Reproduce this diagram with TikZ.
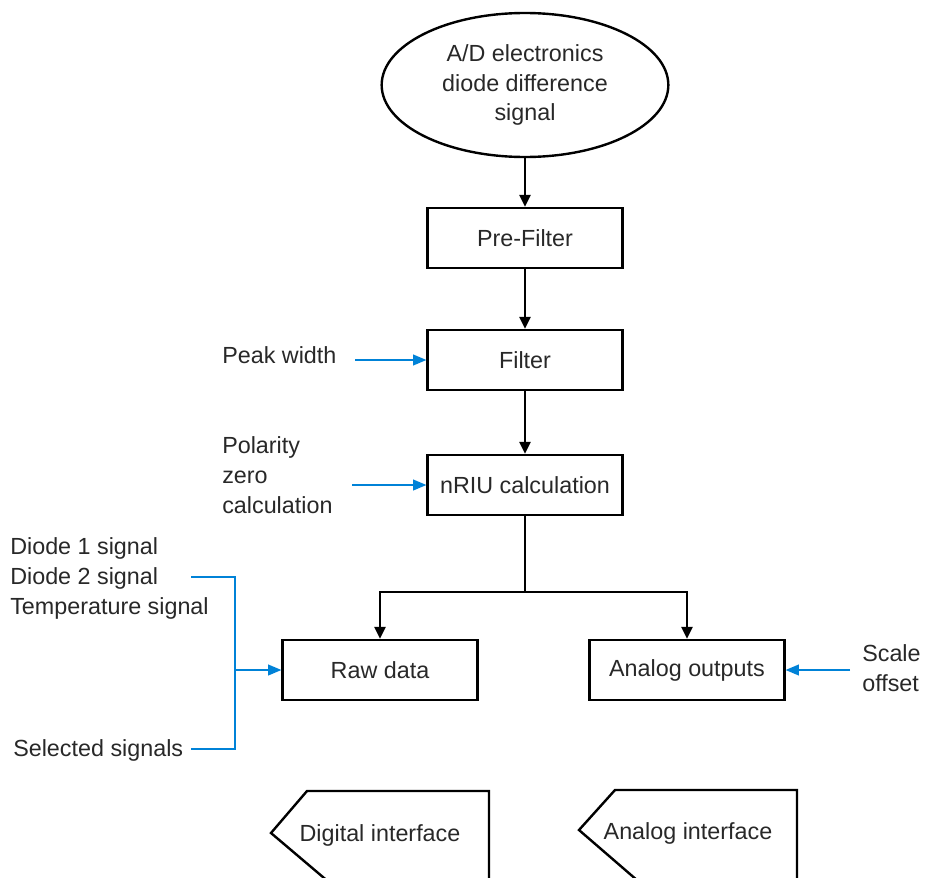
\documentclass[tikz,border=0pt]{standalone}
\usepackage{fontspec}
\setmainfont{Liberation Sans}
\usetikzlibrary{shapes.geometric,arrows.meta}
\definecolor{sigblue}{RGB}{0,130,215}
\definecolor{txt}{RGB}{40,40,40}
\tikzset{
  box/.style={draw=black,line width=1.8pt,minimum width=146pt,minimum height=45pt,inner sep=0pt,text=txt,font=\fontsize{17.5}{22}\selectfont},
  lbl/.style={inner sep=0pt,text=txt,font=\fontsize{17.5}{22.5}\selectfont},
  flow/.style={draw=black,line width=1.4pt,-{Triangle[length=9pt,width=8.5pt]}},
  sig/.style={draw=sigblue,line width=1.4pt,-{Triangle[length=10pt,width=8pt]}},
  sigline/.style={draw=sigblue,line width=1.4pt},
  iface/.style={draw=black,line width=1.8pt}
}
\begin{document}
\begin{tikzpicture}[x=0.75pt,y=-0.75pt]
\useasboundingbox (0,0) rectangle (928,878);
\clip (0,0) rectangle (928,878);
% ellipse
\node[ellipse,draw=black,line width=1.8pt,minimum width=215pt,minimum height=108pt,inner sep=0pt,align=center,text=txt,font=\fontsize{17.5}{22}\selectfont] (ad) at (525,85) {A/D electronics\\diode difference\\signal};
\node[box] (pre) at (525,238) {Pre-Filter};
\node[box] (filt) at (525,360) {Filter};
\node[box] (nriu) at (525,485) {nRIU calculation};
\node[box] (raw) at (380,670) {Raw data};
\node[box] (ana) at (687,670) {Analog outputs};
% flow arrows
\draw[flow] (ad.south) -- (pre.north);
\draw[flow] (pre.south) -- (filt.north);
\draw[flow] (filt.south) -- (nriu.north);
\coordinate (split) at (525,592);
\draw[draw=black,line width=1.4pt] (nriu.south) -- (split);
\draw[flow] (split) -| (raw.north);
\draw[flow] (split) -| (ana.north);
% side labels
\node[lbl,anchor=west] (pw) at (222,355) {Peak width};
\coordinate (pws) at (355,360);
\draw[sig] (pws) -- (filt.west);
\node[lbl,anchor=west,align=left] (pol) at (222,475) {Polarity\\zero\\calculation};
\coordinate (pols) at (352,485);
\draw[sig] (pols) -- (nriu.west);
\node[lbl,anchor=west,align=left] (sc) at (862,668) {Scale\\offset};
\coordinate (scs) at (850,670);
\draw[sig] (scs) -- (ana.east);
% left group
\node[lbl,anchor=west] (d1) at (10,548) {Diode 1 signal};
\node[lbl,anchor=west] (d2) at (10,578) {Diode 2 signal};
\node[lbl,anchor=west] (ts) at (10,608) {Temperature signal};
\node[lbl,anchor=west] (ss) at (13,750) {Selected signals};
\coordinate (b1) at (191,577);
\coordinate (b2) at (191,749);
\coordinate (bj) at (235,670);
\draw[sigline] (b1) -- (235,577) -- (235,749) -- (b2);
\draw[sig] (bj) -- (raw.west);
% interfaces
\draw[iface] (307,791) -- (489,791) -- (489,900) -- (350,900) -- (271,833) -- cycle;
\node[lbl] (di) at (380,835) {Digital interface};
\draw[iface] (615,790) -- (797,790) -- (797,900) -- (660,900) -- (579,830) -- cycle;
\node[lbl] (ai) at (688,833) {Analog interface};
\end{tikzpicture}
\end{document}
